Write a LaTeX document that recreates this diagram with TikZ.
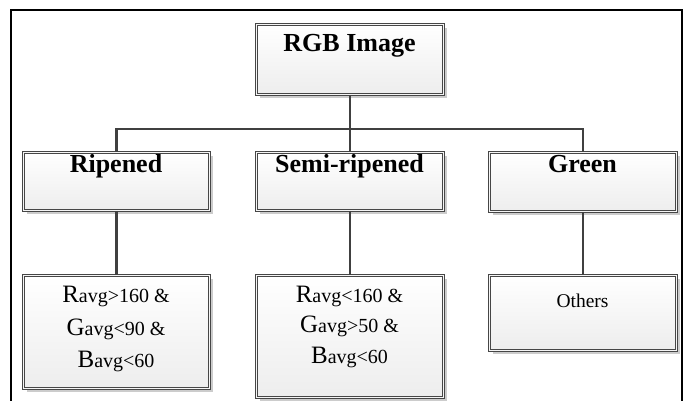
\documentclass[tikz,border=0pt]{standalone}
\usepackage{fontspec}
\setmainfont{Liberation Serif}
\usetikzlibrary{shadows}
\newcommand\capL[1]{{\fontsize{25}{30}\selectfont #1}}
\begin{document}
\begin{tikzpicture}[x=1pt,y=-1pt,
  box/.style={draw=gray!55!black, line width=1pt, double=gray!8, double distance=1.6pt,
    top color=white, bottom color=gray!14,
    drop shadow={shadow xshift=3.5pt, shadow yshift=-3.5pt, fill=gray!40, opacity=1},
    inner sep=0pt, anchor=north west},
  conn/.style={draw=black!75, line width=2.5pt},
  hd/.style={font=\fontsize{26}{30}\selectfont\bfseries, inner sep=0pt, anchor=base},
  cd/.style={font=\fontsize{20}{24}\selectfont, inner sep=0pt, anchor=base},
  ot/.style={font=\fontsize{19.5}{22}\selectfont, inner sep=0pt, anchor=base}]
\useasboundingbox (0,0) rectangle (689,401);
% frame
\draw[line width=2pt] (11,401) -- (11,10) -- (682,10) -- (682,401);
% boxes
\node[box, minimum width=187pt, minimum height=70pt] (rgb) at (256,24) {};
\node[box, minimum width=186pt, minimum height=58pt] (rip) at (23,152) {};
\node[box, minimum width=187pt, minimum height=58pt] (semi) at (256,152) {};
\node[box, minimum width=187pt, minimum height=59pt] (grn) at (489,152) {};
\node[box, minimum width=186pt, minimum height=113pt] (c1) at (23,275) {};
\node[box, minimum width=187pt, minimum height=122pt] (c2) at (256,275) {};
\node[box, minimum width=187pt, minimum height=75pt] (c3) at (489,275) {};
% texts
\node[hd] (rgbt) at (349.5,52) {RGB Image};
\node[hd] (ript) at (116,173) {Ripened};
\node[hd] (semit) at (349.5,173) {Semi-ripened};
\node[hd] (grnt) at (582.5,173) {Green};
\node[cd] (c1a) at (116,302) {\capL{R}avg>160 \&};
\node[cd] (c1b) at (116,335) {\capL{G}avg<90 \&};
\node[cd] (c1c) at (116,367) {\capL{B}avg<60};
\node[cd] (c2a) at (349.5,302) {\capL{R}avg<160 \&};
\node[cd] (c2b) at (349.5,332) {\capL{G}avg>50 \&};
\node[cd] (c2c) at (349.5,363) {\capL{B}avg<60};
\node[ot] (c3a) at (582.5,307) {Others};
% connectors
\coordinate (bus) at (349.5,129);
\draw[conn] (rgb.south) -- (semi.north);
\draw[conn] (rip.north) |- (bus) -| (grn.north);
\draw[conn] (rip.south) -- (c1.north);
\draw[conn] (semi.south) -- (c2.north);
\draw[conn] (grn.south) -- (c3.north);
\end{tikzpicture}
\end{document}
